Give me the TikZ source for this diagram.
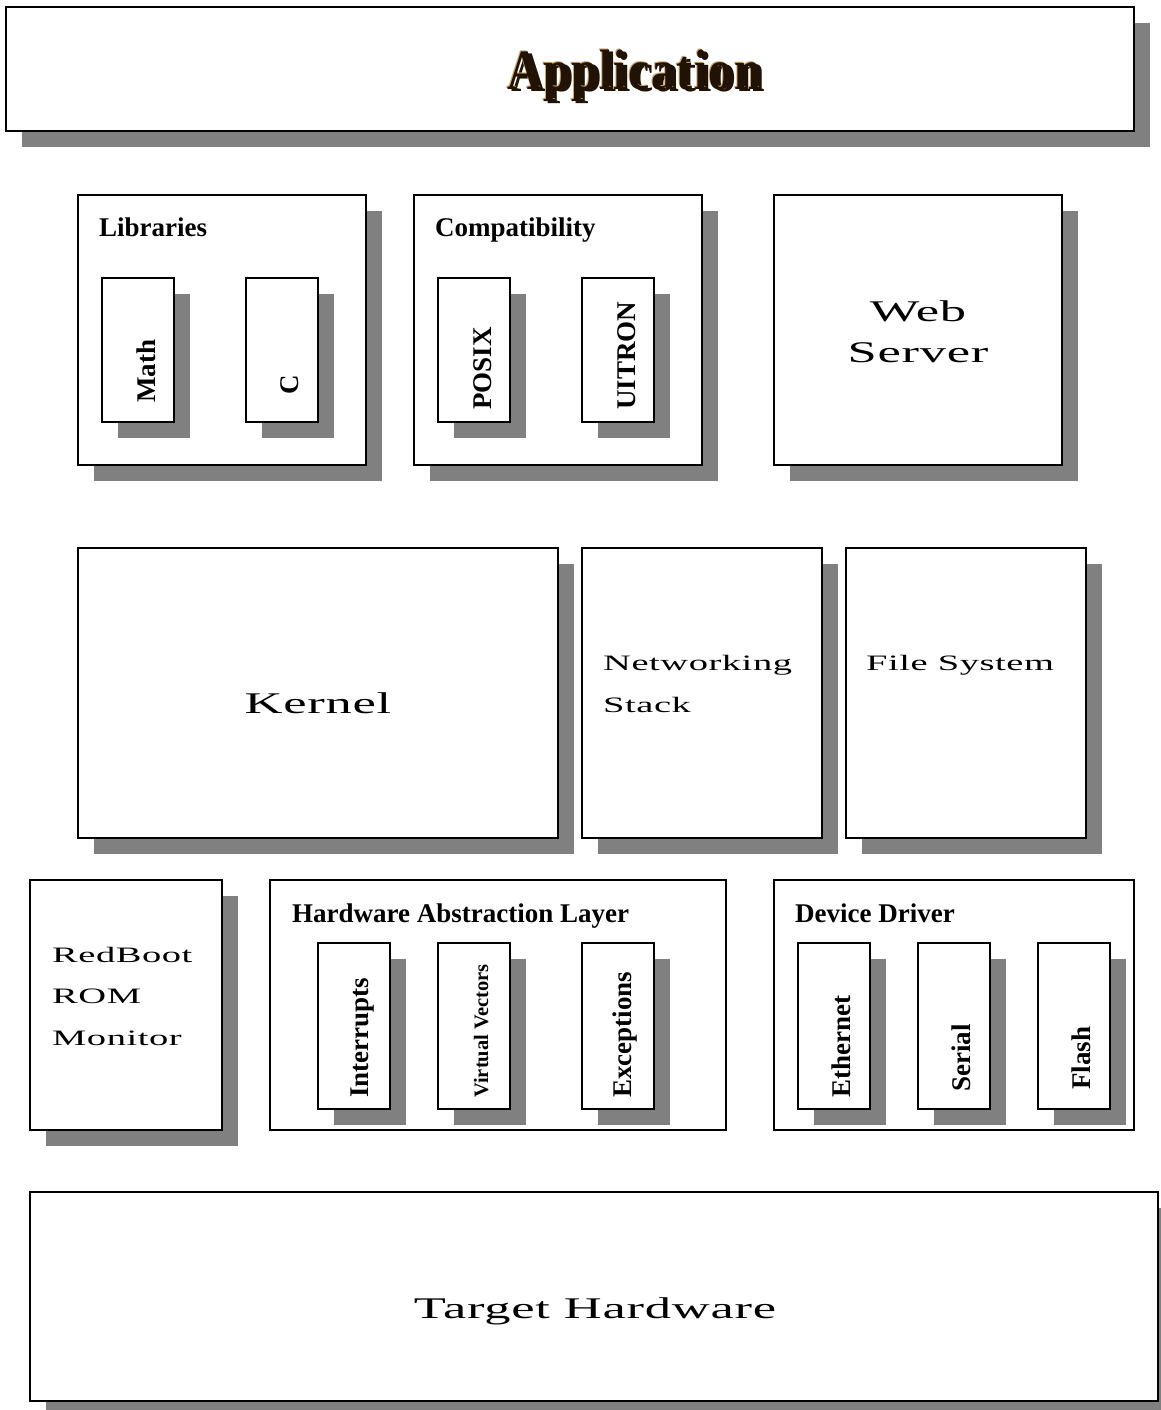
\documentclass[tikz,border=0pt]{standalone}
\usepackage{fontspec}
\setmainfont{Liberation Serif}
\newfontfamily\widefont[FakeStretch=1.75,LetterSpace=2.5]{Liberation Serif}
\newfontfamily\appfont[LetterSpace=3]{Liberation Serif}
\usepackage{graphicx}
\usepackage{tikz}
\usetikzlibrary{positioning, shadows}
\definecolor{shadowgray}{RGB}{128, 128, 128}
\definecolor{appbrown}{RGB}{32, 18, 4}
\definecolor{apptan}{RGB}{205, 165, 115}

\begin{document}
\begin{tikzpicture}[x=1pt, y=1pt,
    layer/.style={draw=black, line width=2pt, fill=white, inner sep=0pt,
                  outer sep=0pt, anchor=north west},
    shadowed/.style={drop shadow={shadow xshift=16pt, shadow yshift=-16pt,
                     fill=shadowgray, opacity=1}},
    part/.style={layer, shadowed, minimum width=72pt},
    heading/.style={font=\bfseries\fontsize{27}{32}\selectfont,
                    anchor=base west, inner sep=0pt},
    vlabel/.style={font=\bfseries\fontsize{27}{32}\selectfont, rotate=90,
                   anchor=base west, inner sep=0pt},
    bigwide/.style={font=\widefont\fontsize{30}{36}\selectfont,
                    anchor=base, inner sep=0pt},
    smallwide/.style={font=\widefont\fontsize{22}{27}\selectfont,
                      anchor=base west, inner sep=0pt},
    apptitle/.style={font=\appfont\bfseries\fontsize{57}{60}\selectfont,
                     anchor=base, inner sep=0pt}]
    % Page
    \useasboundingbox (0,0) rectangle (1160,-1410);
    \fill[white] (0,0) rectangle (1160,-1410);
    % Application
    \node[layer, shadowed, minimum width=1128pt, minimum height=124pt]
        (app) at (6,-7) {};
    \coordinate (apptxt) at (634,-90);
    \node[apptitle, text=appbrown] (appshade) at ([shift={(4,-2)}]apptxt)
        {\scalebox{0.84}[1]{Application}};
    \node[apptitle, text=apptan] (applight) at ([shift={(-1,1)}]apptxt)
        {\scalebox{0.84}[1]{Application}};
    \node[apptitle, text=appbrown] (appname) at (apptxt)
        {\scalebox{0.84}[1]{Application}};
    % Libraries
    \node[layer, shadowed, minimum width=288pt, minimum height=270pt]
        (libs) at (78,-195) {};
    \node[heading] (libshead) at ([shift={(21,-41)}]libs.north west) {Libraries};
    \node[part, minimum height=144pt, below right=83pt and 24pt of libs.north west] (math) {};
    \node[vlabel] (mathtxt) at ([shift={(-19,19)}]math.south east) {Math};
    \node[part, minimum height=144pt, right=72pt of math] (clib) {};
    \node[vlabel] (clibtxt) at ([shift={(-20,27)}]clib.south east) {C};
    % Compatibility
    \node[layer, shadowed, minimum width=288pt, minimum height=270pt,
          right=48pt of libs] (compat) {};
    \node[heading] (compathead) at ([shift={(21,-41)}]compat.north west) {Compatibility};
    \node[part, minimum height=144pt, below right=83pt and 24pt of compat.north west] (posix) {};
    \node[vlabel] (posixtxt) at ([shift={(-19,12)}]posix.south east) {POSIX};
    \node[part, minimum height=144pt, right=72pt of posix] (uitron) {};
    \node[vlabel] (uitrontxt) at ([shift={(-19,12)}]uitron.south east) {UITRON};
    % Web server
    \node[layer, shadowed, minimum width=288pt, minimum height=270pt,
          right=72pt of compat] (web) {};
    \node[bigwide] (webtxt) at (918,-321) {Web};
    \node[bigwide] (servertxt) at (918,-362) {Server};
    % Kernel, networking, file system
    \node[layer, shadowed, minimum width=480pt, minimum height=290pt]
        (kernel) at (78,-548) {};
    \node[bigwide] (kerneltxt) at (318,-713) {Kernel};
    \node[layer, shadowed, minimum width=240pt, minimum height=290pt,
          right=24pt of kernel] (net) {};
    \node[smallwide] (nettxt) at (603,-670) {Networking};
    \node[smallwide] (stacktxt) at (603,-712) {Stack};
    \node[layer, shadowed, minimum width=240pt, minimum height=290pt,
          right=24pt of net] (fs) {};
    \node[smallwide] (fstxt) at (866,-670) {File System};
    % RedBoot
    \node[layer, shadowed, minimum width=192pt, minimum height=250pt]
        (redboot) at (30,-880) {};
    \node[smallwide] (redboottxt) at (52,-962) {RedBoot};
    \node[smallwide] (romtxt) at (52,-1003) {ROM};
    \node[smallwide] (monitortxt) at (52,-1045) {Monitor};
    % Hardware abstraction layer
    \node[layer, minimum width=456pt, minimum height=250pt,
          right=48pt of redboot] (hal) {};
    \node[heading] (halhead) at ([shift={(22,-42)}]hal.north west) {Hardware Abstraction Layer};
    \node[part, minimum height=166pt, below right=63pt and 48pt of hal.north west] (irq) {};
    \node[vlabel] (irqtxt) at ([shift={(-22,11)}]irq.south east) {Interrupts};
    \node[part, minimum height=166pt, right=48pt of irq] (vvec) {};
    \node[vlabel, font=\bfseries\fontsize{20.5}{24}\selectfont] (vvectxt)
        at ([shift={(-22,11)}]vvec.south east) {Virtual Vectors};
    \node[part, minimum height=166pt, right=72pt of vvec] (exc) {};
    \node[vlabel] (exctxt) at ([shift={(-23,11)}]exc.south east) {Exceptions};
    % Device drivers
    \node[layer, minimum width=360pt, minimum height=250pt,
          right=48pt of hal] (drv) {};
    \node[heading] (drvhead) at ([shift={(21,-42)}]drv.north west) {Device Driver};
    \node[part, minimum height=166pt, below right=63pt and 24pt of drv.north west] (eth) {};
    \node[vlabel] (ethtxt) at ([shift={(-20,11)}]eth.south east) {Ethernet};
    \node[part, minimum height=166pt, right=48pt of eth] (serial) {};
    \node[vlabel] (serialtxt) at ([shift={(-20,17)}]serial.south east) {Serial};
    \node[part, minimum height=166pt, right=48pt of serial] (flash) {};
    \node[vlabel] (flashtxt) at ([shift={(-20,19)}]flash.south east) {Flash};
    % Target hardware
    \node[layer, shadowed, minimum width=1128pt, minimum height=209pt]
        (target) at (30,-1192) {};
    \node[bigwide] (targettxt) at (595,-1318) {Target Hardware};
\end{tikzpicture}
\end{document}
